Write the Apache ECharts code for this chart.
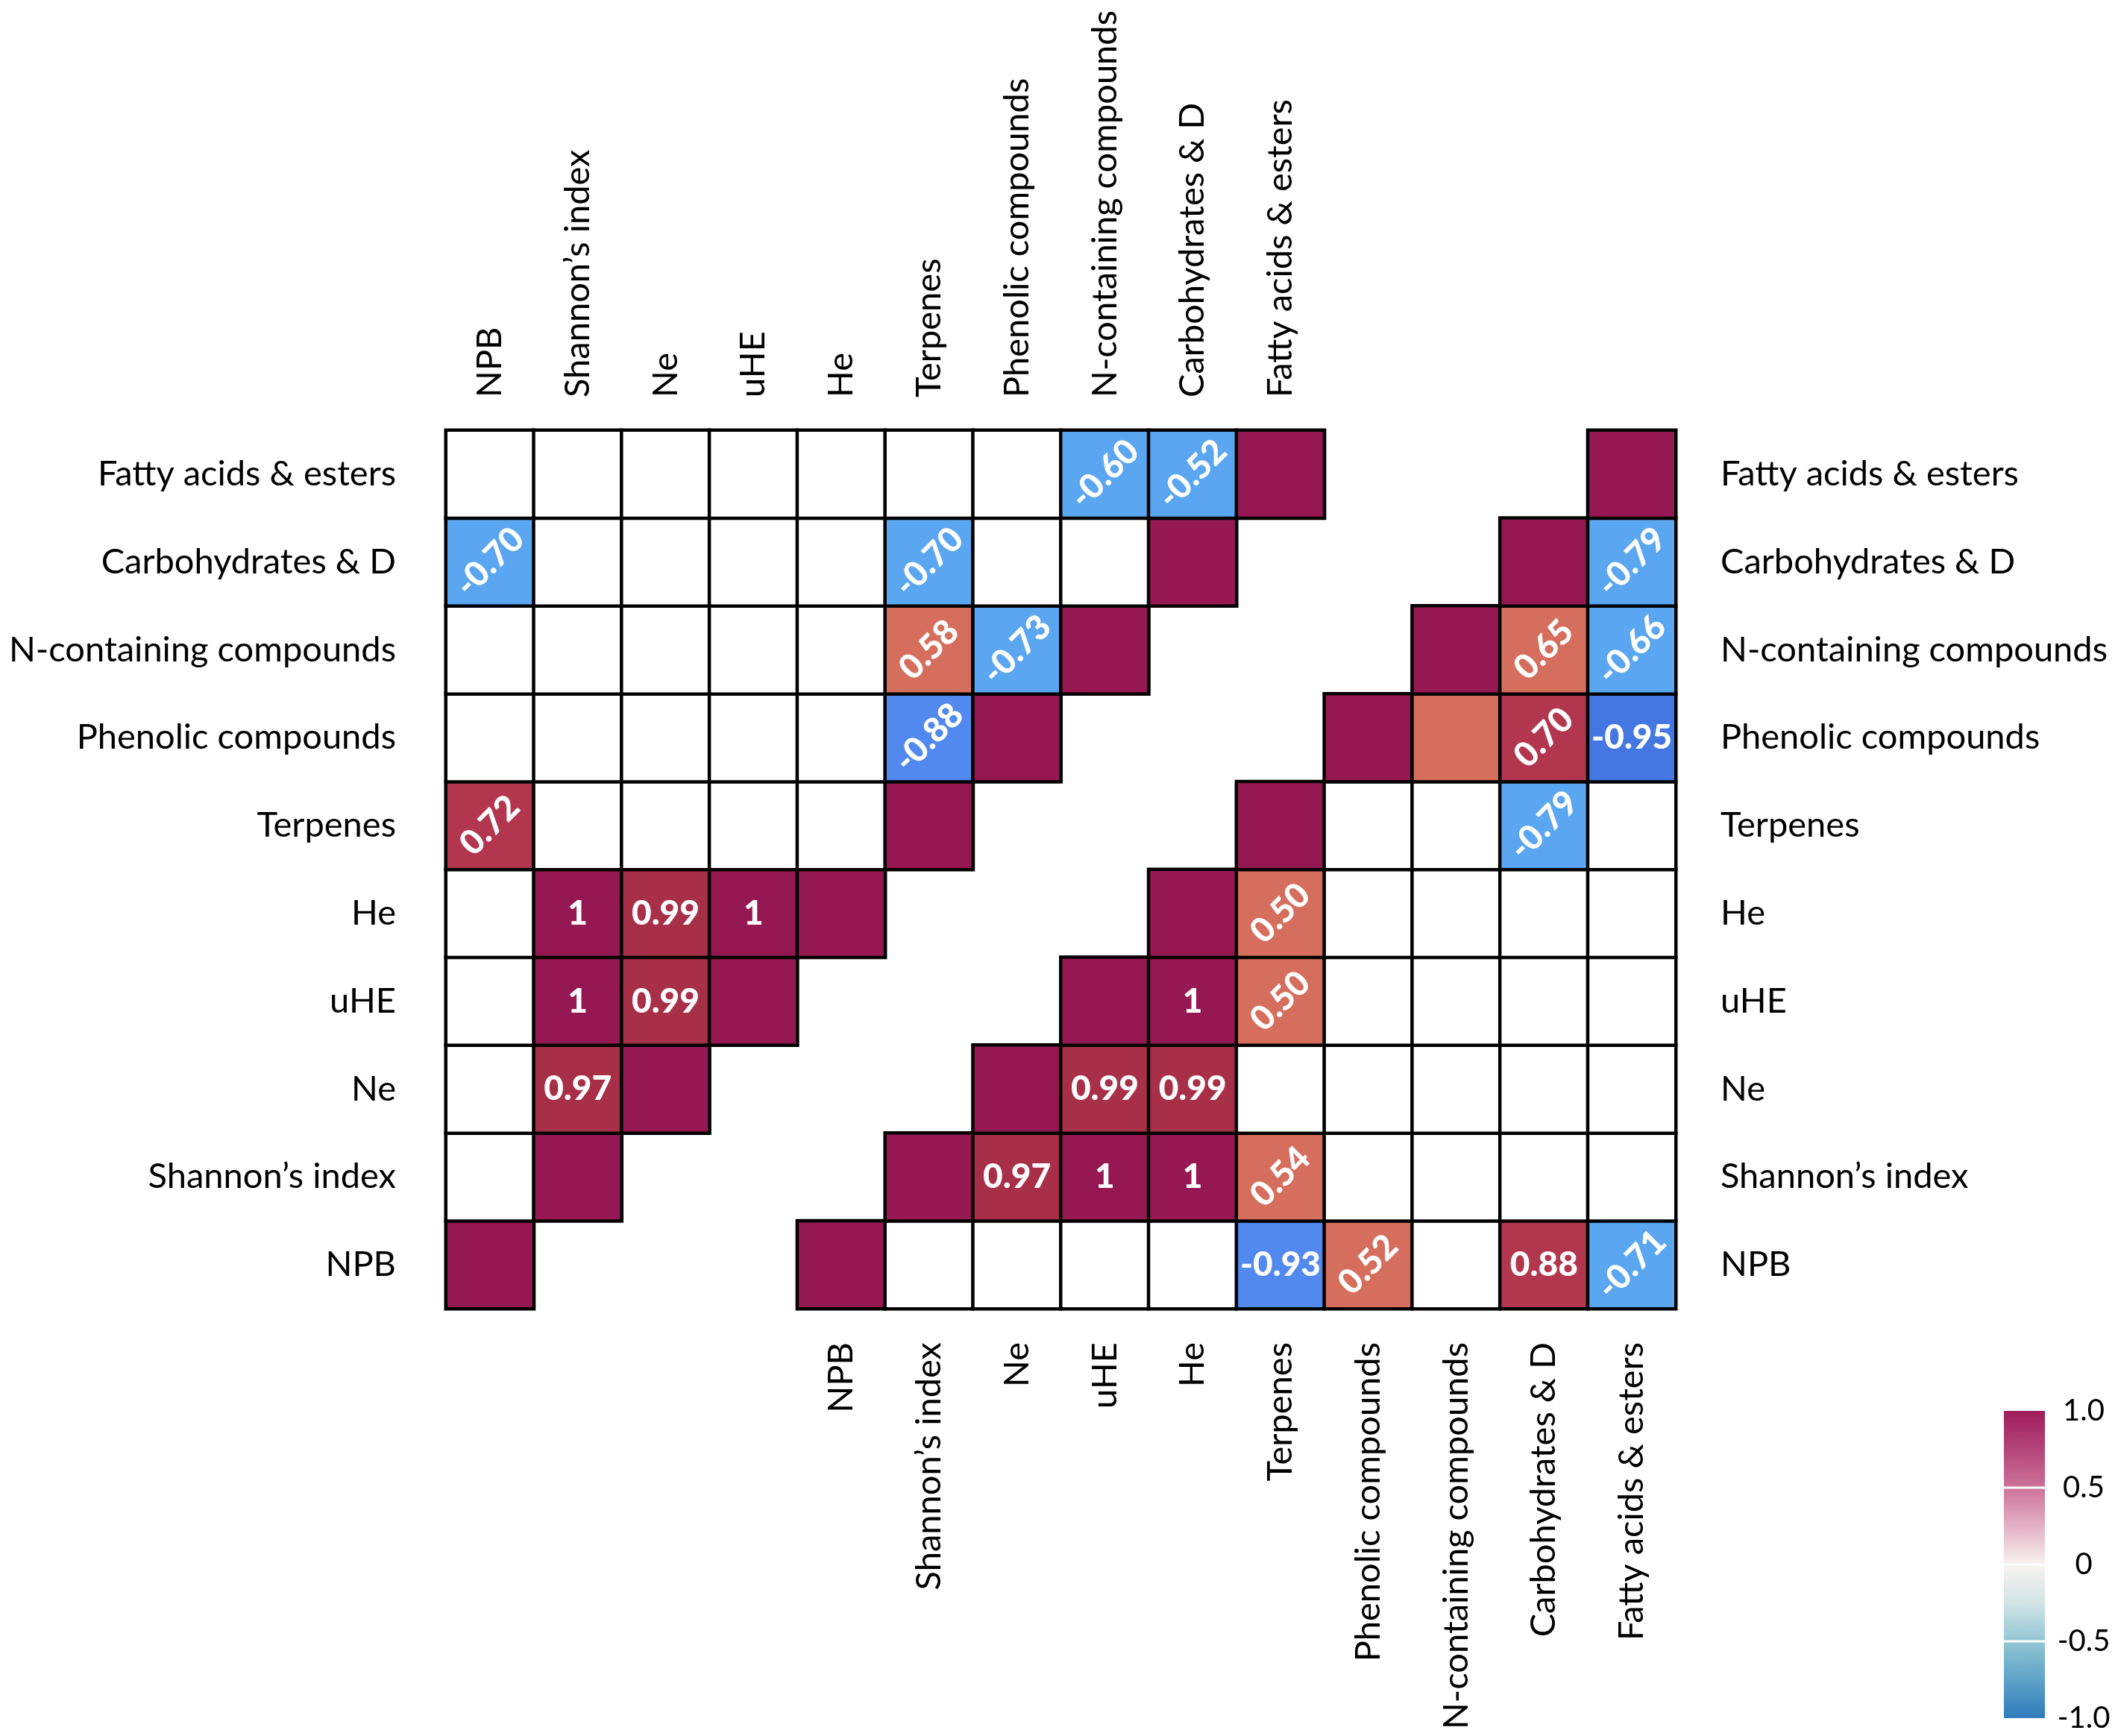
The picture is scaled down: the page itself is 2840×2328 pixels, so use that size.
<!DOCTYPE html>
<html>
<head>
<meta charset="utf-8">
<script src="https://cdn.jsdelivr.net/npm/echarts@6/dist/echarts.min.js"></script>
<style>
html,body{margin:0;padding:0;background:#fff;}
#chart{width:2840px;height:2328px;}
</style>
</head>
<body>
<div id="chart"></div>
<script>
// ---- data ----
const variables = ['NPB', 'Shannon\u2019s index', 'Ne', 'uHE', 'He', 'Terpenes',
  'Phenolic compounds', 'N-containing compounds', 'Carbohydrates & D', 'Fatty acids & esters'];

// left (upper-left) triangle: [row, column, r]
const leftCorr = [
  ['Fatty acids & esters', 'N-containing compounds', -0.60],
  ['Fatty acids & esters', 'Carbohydrates & D', -0.52],
  ['Carbohydrates & D', 'NPB', -0.70],
  ['Carbohydrates & D', 'Terpenes', -0.70],
  ['N-containing compounds', 'Terpenes', 0.58],
  ['N-containing compounds', 'Phenolic compounds', -0.73],
  ['Phenolic compounds', 'Terpenes', -0.88],
  ['Terpenes', 'NPB', 0.72],
  ['He', 'Shannon\u2019s index', 1],
  ['He', 'Ne', 0.99],
  ['He', 'uHE', 1],
  ['uHE', 'Shannon\u2019s index', 1],
  ['uHE', 'Ne', 0.99],
  ['Ne', 'Shannon\u2019s index', 0.97]
];
// right (lower-right) triangle: [row, column, r]
const rightCorr = [
  ['Carbohydrates & D', 'Fatty acids & esters', -0.79],
  ['N-containing compounds', 'Carbohydrates & D', 0.65],
  ['N-containing compounds', 'Fatty acids & esters', -0.66],
  ['Phenolic compounds', 'N-containing compounds', 0.60],
  ['Phenolic compounds', 'Carbohydrates & D', 0.70],
  ['Phenolic compounds', 'Fatty acids & esters', -0.95],
  ['Terpenes', 'Carbohydrates & D', -0.79],
  ['He', 'Terpenes', 0.50],
  ['uHE', 'He', 1],
  ['uHE', 'Terpenes', 0.50],
  ['Ne', 'uHE', 0.99],
  ['Ne', 'He', 0.99],
  ['Shannon\u2019s index', 'Ne', 0.97],
  ['Shannon\u2019s index', 'uHE', 1],
  ['Shannon\u2019s index', 'He', 1],
  ['Shannon\u2019s index', 'Terpenes', 0.54],
  ['NPB', 'Terpenes', -0.93],
  ['NPB', 'Phenolic compounds', 0.52],
  ['NPB', 'Carbohydrates & D', 0.88],
  ['NPB', 'Fatty acids & esters', -0.71]
];
// cells whose number is written upright (others are tilted)
const leftUpright = [['He','Shannon\u2019s index'],['He','Ne'],['He','uHE'],['uHE','Shannon\u2019s index'],['uHE','Ne'],['Ne','Shannon\u2019s index']];
const rightUpright = [['Phenolic compounds','Fatty acids & esters'],['uHE','He'],['Ne','uHE'],['Ne','He'],['Shannon\u2019s index','Ne'],['Shannon\u2019s index','uHE'],['Shannon\u2019s index','He'],['NPB','Terpenes'],['NPB','Carbohydrates & D']];
// cells without a printed number
const rightUnlabeled = [['Phenolic compounds','N-containing compounds']];

const colorbarTicks = [-1, -0.5, 0, 0.5, 1];
const colorbarTickLabels = ['-1.0', '-0.5', '0', '0.5', '1.0'];
const colorbarStopValues = [1, 0.75, 0.5, 0.25, 0, -0.25, -0.5, -0.75, -1];
const colorbarStopColors = ['#9e1c5b', '#b4467a', '#cd7399', '#e3b0c4', '#f7f4ef', '#d2e4e6', '#92c6d3', '#5ea3c8', '#2f7bbb'];

// ---- helpers ----
const FONT = 'Lato';
const SHIFT = 4; // right triangle column offset
function cellColor(v) {
  if (v === null) return '#ffffff';
  if (v >= 0.995) return '#961853';
  if (v >= 0.95) return '#a82f48';
  if (v >= 0.68) return '#b3364f';
  if (v > 0) return '#d66e5d';
  if (v > -0.85) return '#5ba6f0';
  if (v > -0.94) return '#5289ee';
  return '#4577e3';
}
function fmt(v) { return Math.abs(v) >= 0.995 ? String(Math.round(v)) : v.toFixed(2); }
function has(list, r, c) { return list.some(p => p[0] === r && p[1] === c); }
function lookup(list, r, c) {
  const f = list.find(p => p[0] === r && p[1] === c);
  return f ? f[2] : null;
}
function makeItem(x, y, v, diag, upright, unlabeled) {
  const item = { value: [x, y, diag ? 1 : (v === null ? 0 : v)], itemStyle: { color: diag ? '#961853' : cellColor(v) } };
  if (diag || v === null || unlabeled) {
    item.label = { show: false };
  } else {
    item.label = { show: true, rotate: upright ? 0 : 45, formatter: fmt(v) };
  }
  return item;
}

const leftData = [];
const rightData = [];
variables.forEach((rv, ri) => {
  for (let c = 0; c <= ri; c++) {
    const cv = variables[c];
    const v = c === ri ? 1 : lookup(leftCorr, rv, cv);
    leftData.push(makeItem(c, ri, v, c === ri, has(leftUpright, rv, cv), false));
  }
  for (let k = ri; k < variables.length; k++) {
    const cv = variables[k];
    const v = k === ri ? 1 : lookup(rightCorr, rv, cv);
    rightData.push(makeItem(k + SHIFT, ri, v, k === ri, has(rightUpright, rv, cv), has(rightUnlabeled, rv, cv)));
  }
});

const blanks = new Array(SHIFT).fill('');
const topCats = variables.concat(blanks);
const bottomCats = blanks.concat(variables);

const labelStyle = { fontFamily: FONT, fontSize: 47, color: '#000' };

const chart = echarts.init(document.getElementById('chart'), null, { renderer: 'canvas' });
chart.setOption({
  backgroundColor: '#fff',
  animation: false,
  grid: [
    { left: 598, top: 577, width: 1649, height: 1178 },
    { left: 2687, top: 1892, width: 55, height: 412 }
  ],
  xAxis: [
    { type: 'category', gridIndex: 0, position: 'top', data: topCats,
      axisLine: { show: false }, axisTick: { show: false }, splitLine: { show: false },
      axisLabel: Object.assign({ rotate: -90, margin: 44, interval: 0 }, labelStyle) },
    { type: 'category', gridIndex: 0, position: 'bottom', data: bottomCats,
      axisLine: { show: false }, axisTick: { show: false }, splitLine: { show: false },
      axisLabel: Object.assign({ rotate: 90, margin: 45, interval: 0 }, labelStyle) },
    { type: 'value', gridIndex: 1, min: 0, max: 1, show: false }
  ],
  yAxis: [
    { type: 'category', gridIndex: 0, position: 'left', data: variables,
      axisLine: { show: false }, axisTick: { show: false }, splitLine: { show: false },
      axisLabel: Object.assign({ margin: 67, interval: 0 }, labelStyle) },
    { type: 'category', gridIndex: 0, position: 'right', data: variables,
      axisLine: { show: false }, axisTick: { show: false }, splitLine: { show: false },
      axisLabel: Object.assign({ margin: 60, interval: 0 }, labelStyle) },
    { type: 'value', gridIndex: 1, position: 'right', min: -1, max: 1, interval: 0.5,
      axisLine: { show: false }, axisTick: { show: false }, splitLine: { show: false },
      axisLabel: { margin: 52, align: 'center', fontFamily: FONT, fontSize: 40, color: '#000',
        formatter: function (v) { const i = colorbarTicks.indexOf(v); return i >= 0 ? colorbarTickLabels[i] : ''; } } }
  ],
  series: [
    { type: 'heatmap', xAxisIndex: 0, yAxisIndex: 0, data: leftData,
      itemStyle: { borderColor: '#000', borderWidth: 4.5 },
      label: { show: true, color: '#fff', fontFamily: FONT, fontWeight: 900, fontSize: 46 },
      emphasis: { disabled: true } },
    { type: 'heatmap', xAxisIndex: 1, yAxisIndex: 1, data: rightData,
      itemStyle: { borderColor: '#000', borderWidth: 4.5 },
      label: { show: true, color: '#fff', fontFamily: FONT, fontWeight: 900, fontSize: 46 },
      emphasis: { disabled: true } },
    { type: 'custom', xAxisIndex: 2, yAxisIndex: 2, data: [[0.5, 0]], silent: true,
      renderItem: function (params, api) {
        const cs = params.coordSys;
        const yTop = api.coord([0.5, 1])[1];
        const yBot = api.coord([0.5, -1])[1];
        const stops = colorbarStopValues.map((v, i) => ({ offset: (1 - v) / 2, color: colorbarStopColors[i] }));
        const children = [{
          type: 'rect', shape: { x: cs.x, y: yTop, width: cs.width, height: yBot - yTop },
          style: { fill: new echarts.graphic.LinearGradient(0, 0, 0, 1, stops) }
        }];
        colorbarTicks.forEach(t => {
          if (t > -1 && t < 1) {
            const y = api.coord([0.5, t])[1];
            children.push({ type: 'line', shape: { x1: cs.x, y1: y, x2: cs.x + cs.width, y2: y },
              style: { stroke: '#fff', lineWidth: 3 } });
          }
        });
        return { type: 'group', children: children };
      } }
  ]
});
</script>
</body>
</html>
